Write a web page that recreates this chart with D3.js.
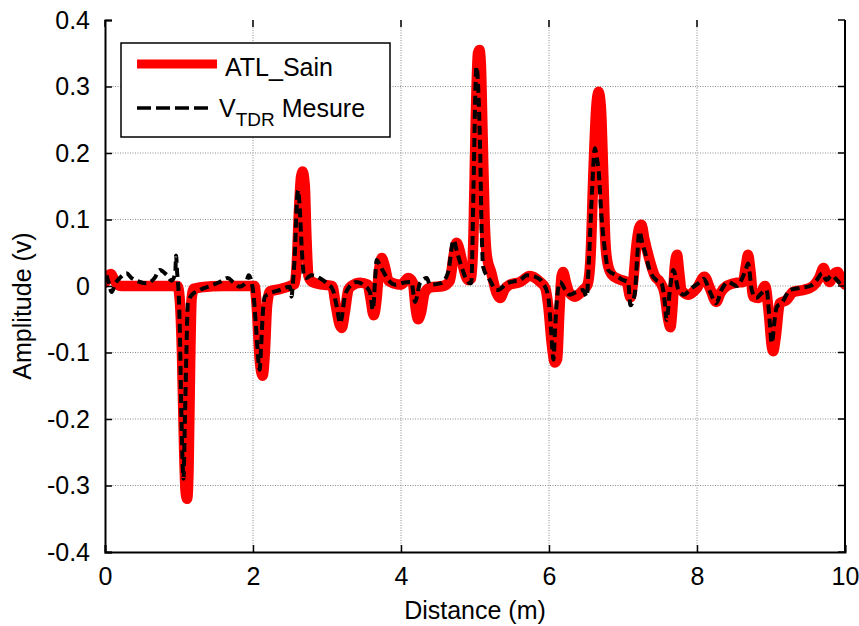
<!DOCTYPE html>
<html>
<head>
<meta charset="utf-8">
<script src="https://cdn.jsdelivr.net/npm/d3@7/dist/d3.min.js"></script>
<style>
  html, body { margin: 0; padding: 0; background: #fff; }
  svg text { font-family: "Liberation Sans", Arial, Helvetica, sans-serif; fill: #000; }
</style>
</head>
<body>
<svg id="chart" width="859" height="626"></svg>
<script>
// Distance (m) / amplitude (V) samples of the simulated healthy line
const sainDist = [0.00,0.04,0.08,0.12,0.17,0.22,0.50,0.98,1.01,1.04,1.07,1.09,1.11,1.13,1.15,1.17,1.20,1.30,1.60,2.02,2.05,2.09,2.13,2.16,2.19,2.23,2.35,2.50,2.56,2.59,2.62,2.65,2.67,2.70,2.72,2.75,2.80,2.95,3.07,3.12,3.17,3.20,3.24,3.29,3.33,3.45,3.55,3.59,3.63,3.67,3.70,3.74,3.78,3.83,3.90,4.00,4.10,4.16,4.20,4.23,4.27,4.32,4.40,4.57,4.66,4.71,4.75,4.80,4.84,4.91,4.95,4.98,5.01,5.04,5.06,5.08,5.10,5.13,5.16,5.22,5.29,5.34,5.40,5.47,5.61,5.74,5.88,5.95,5.99,6.04,6.08,6.11,6.14,6.17,6.19,6.23,6.27,6.35,6.46,6.52,6.56,6.60,6.64,6.67,6.70,6.73,6.76,6.79,6.85,6.95,7.05,7.10,7.14,7.18,7.22,7.25,7.29,7.36,7.43,7.50,7.56,7.61,7.64,7.67,7.70,7.73,7.76,7.79,7.88,8.00,8.10,8.18,8.26,8.32,8.40,8.54,8.62,8.66,8.69,8.72,8.76,8.83,8.92,8.97,9.01,9.03,9.06,9.12,9.21,9.30,9.44,9.57,9.65,9.71,9.75,9.79,9.85,9.90,9.95,10.0];
const sainAmp = [0.005,0.015,0.018,0.010,0.002,0.000,0.000,0.000,-0.02,-0.10,-0.25,-0.31,-0.32,-0.27,-0.12,-0.02,-0.004,-0.002,0.000,0.000,-0.03,-0.11,-0.135,-0.10,-0.03,-0.008,-0.005,0.000,0.003,0.03,0.11,0.165,0.172,0.15,0.08,0.015,0.006,0.002,0.000,-0.03,-0.058,-0.063,-0.04,-0.005,0.000,0.005,0.002,-0.02,-0.044,-0.02,0.02,0.042,0.03,0.008,0.004,0.002,0.012,0.005,-0.035,-0.05,-0.04,-0.01,-0.002,0.000,0.008,0.045,0.065,0.05,0.029,0.009,0.012,0.08,0.25,0.35,0.355,0.33,0.24,0.10,0.045,0.02,-0.01,-0.018,-0.005,0.002,0.006,0.015,0.006,-0.003,-0.03,-0.09,-0.115,-0.11,-0.04,0.015,0.021,0.005,-0.009,-0.016,-0.006,0.002,0.04,0.17,0.27,0.292,0.27,0.18,0.07,0.035,0.017,0.01,0.006,-0.017,0.01,0.06,0.088,0.092,0.07,0.039,0.015,0.006,-0.01,-0.05,-0.062,-0.03,0.03,0.047,0.02,-0.006,-0.013,-0.003,0.014,-0.005,-0.024,-0.01,0.000,0.005,0.006,0.03,0.047,0.025,-0.016,-0.018,0.000,-0.04,-0.09,-0.098,-0.08,-0.026,-0.021,-0.009,-0.006,0.000,0.012,0.027,0.015,0.006,0.018,0.021,0.01,0.002];

// Measured TDR response
const mesureDist = [0.02,0.05,0.09,0.14,0.20,0.29,0.36,0.47,0.56,0.67,0.74,0.83,0.90,0.95,0.96,0.975,0.99,1.01,1.03,1.05,1.06,1.08,1.10,1.12,1.17,1.28,1.42,1.55,1.66,1.73,1.82,1.91,1.94,2.00,2.04,2.08,2.09,2.11,2.13,2.16,2.23,2.36,2.50,2.52,2.54,2.57,2.59,2.61,2.63,2.66,2.69,2.72,2.79,2.90,3.00,3.08,3.13,3.18,3.21,3.24,3.31,3.40,3.49,3.58,3.62,3.65,3.67,3.72,3.76,3.83,3.92,4.03,4.14,4.19,4.26,4.35,4.39,4.53,4.59,4.64,4.71,4.76,4.80,4.89,4.93,4.95,4.98,5.01,5.02,5.05,5.07,5.09,5.11,5.20,5.29,5.31,5.43,5.52,5.61,5.70,5.81,5.92,5.99,6.03,6.06,6.08,6.10,6.15,6.22,6.28,6.37,6.46,6.51,6.54,6.58,6.62,6.65,6.67,6.71,6.76,6.80,6.89,7.00,7.07,7.10,7.16,7.19,7.22,7.26,7.30,7.36,7.45,7.52,7.56,7.59,7.63,7.68,7.75,7.82,7.93,8.04,8.09,8.18,8.26,8.33,8.42,8.54,8.60,8.66,8.69,8.74,8.80,8.87,8.94,8.98,9.01,9.05,9.08,9.14,9.26,9.39,9.53,9.62,9.69,9.75,9.82,9.89,9.98];
const mesureAmp = [0.016,0.005,-0.009,0.004,0.012,0.019,0.012,0.006,0.004,0.012,0.024,0.017,0.008,0.02,0.046,0.02,0.000,-0.06,-0.18,-0.27,-0.29,-0.20,-0.10,-0.026,-0.014,-0.006,0.000,0.006,0.012,0.006,-0.001,0.006,0.016,-0.006,-0.06,-0.12,-0.126,-0.09,-0.046,-0.016,-0.011,-0.006,-0.001,-0.016,0.005,0.06,0.12,0.144,0.12,0.054,0.015,0.012,0.016,0.012,0.004,-0.006,-0.03,-0.056,-0.04,-0.016,0.000,0.006,0.002,-0.009,-0.036,0.01,0.039,0.03,0.022,0.009,0.002,0.005,0.006,-0.024,0.005,0.012,0.002,0.004,0.009,0.022,0.069,0.05,0.035,0.009,0.004,0.005,0.15,0.31,0.33,0.28,0.20,0.084,0.029,0.009,-0.006,-0.006,0.004,0.007,0.009,0.016,0.014,0.004,-0.016,-0.07,-0.111,-0.07,-0.031,0.006,-0.006,-0.013,-0.009,-0.006,-0.016,0.04,0.14,0.207,0.19,0.174,0.104,0.05,0.024,0.017,0.009,0.006,-0.029,-0.011,0.04,0.082,0.065,0.05,0.024,0.009,0.004,-0.02,-0.051,-0.01,0.024,-0.006,-0.013,-0.003,0.006,0.011,-0.01,-0.026,-0.006,0.006,0.000,0.009,0.025,0.034,-0.006,-0.018,-0.011,-0.006,-0.05,-0.086,-0.05,-0.031,-0.026,-0.006,-0.003,0.000,0.009,0.019,0.009,0.016,0.009,-0.003];

const xTicks = [0, 2, 4, 6, 8, 10];
const yTicks = [-0.4, -0.3, -0.2, -0.1, 0, 0.1, 0.2, 0.3, 0.4];
const xTitle = "Distance (m)";
const yTitle = "Amplitude (v)";

const svg = d3.select("#chart");
const plotL = 105, plotR = 845, plotT = 20, plotB = 552;

const x = d3.scaleLinear().domain([0, 10]).range([plotL, plotR]);
const y = d3.scaleLinear().domain([-0.4, 0.4]).range([plotB, plotT]);

// clip region for the traces
svg.append("defs").append("clipPath").attr("id", "plotClip")
  .append("rect").attr("x", plotL).attr("y", plotT)
  .attr("width", plotR - plotL).attr("height", plotB - plotT);

// dotted grid
const grid = svg.append("g");
grid.selectAll("line.gx").data(xTicks.filter(t => t > 0 && t < 10)).join("line")
  .attr("x1", d => x(d)).attr("x2", d => x(d)).attr("y1", plotT).attr("y2", plotB)
  .attr("stroke", "#8c8c8c").attr("stroke-width", 1).attr("stroke-dasharray", "1,1.5");
grid.selectAll("line.gy").data(yTicks.filter(t => t > -0.4 && t < 0.4)).join("line")
  .attr("x1", plotL).attr("x2", plotR).attr("y1", d => y(d)).attr("y2", d => y(d))
  .attr("stroke", "#8c8c8c").attr("stroke-width", 1).attr("stroke-dasharray", "1,1.5");

const line = d3.line().x(d => x(d[0])).y(d => y(d[1])).curve(d3.curveMonotoneX);
const sain = sainDist.map((d, i) => [d, sainAmp[i]]);
const mesure = mesureDist.map((d, i) => [d, mesureAmp[i]]);

const traces = svg.append("g").attr("clip-path", "url(#plotClip)");
traces.append("path").datum(sain).attr("d", line)
  .attr("fill", "none").attr("stroke", "#ff0000").attr("stroke-width", 10.5)
  .attr("stroke-linejoin", "round").attr("stroke-linecap", "round");
traces.append("path").datum(mesure).attr("d", line)
  .attr("fill", "none").attr("stroke", "#000").attr("stroke-width", 4)
  .attr("stroke-dasharray", "9,5");

// axes (ticks pointing inward)
const fmtY = d => d === 0 ? "0" : d3.format(".1f")(d).replace("\u2212", "-");
const axisG = svg.append("g");
const yAxis = d3.axisLeft(y).tickValues(yTicks).tickSize(-7).tickPadding(15).tickFormat(fmtY);
axisG.append("g").attr("transform", `translate(${plotL},0)`).call(yAxis)
  .call(g => g.select(".domain").attr("stroke-width", 2));
const xAxis = d3.axisBottom(x).tickValues(xTicks).tickSize(-7).tickPadding(15)
  .tickFormat(d3.format("d"));
axisG.append("g").attr("transform", `translate(0,${plotB})`).call(xAxis)
  .call(g => g.select(".domain").attr("stroke-width", 2));
// right border with inward ticks, top ticks
axisG.append("line").attr("x1", plotR).attr("x2", plotR).attr("y1", plotT).attr("y2", plotB)
  .attr("stroke", "#000").attr("stroke-width", 2);
axisG.selectAll("line.rt").data(yTicks).join("line")
  .attr("x1", plotR).attr("x2", plotR - 7).attr("y1", d => y(d)).attr("y2", d => y(d))
  .attr("stroke", "#000").attr("stroke-width", 1.5);
axisG.selectAll("line.tt").data(xTicks).join("line")
  .attr("x1", d => x(d)).attr("x2", d => x(d)).attr("y1", plotT).attr("y2", plotT + 7)
  .attr("stroke", "#000").attr("stroke-width", 1.5);
axisG.selectAll(".tick line").attr("stroke-width", 1.5);
axisG.selectAll(".tick text").attr("font-size", 25).attr("font-family", "Liberation Sans, Arial, sans-serif");
axisG.selectAll(".domain").attr("stroke", "#000");

// axis titles
svg.append("text").attr("x", (plotL + plotR) / 2).attr("y", 619)
  .attr("text-anchor", "middle").attr("font-size", 25).text(xTitle);
svg.append("text").attr("transform", `translate(31,${(plotT + plotB) / 2 + 20}) rotate(-90)`)
  .attr("text-anchor", "middle").attr("font-size", 25).text(yTitle);

// legend
const lg = svg.append("g");
lg.append("rect").attr("x", 121).attr("y", 43).attr("width", 269).attr("height", 94)
  .attr("fill", "#fff").attr("stroke", "#000").attr("stroke-width", 1.5);
lg.append("line").attr("x1", 137).attr("x2", 217).attr("y1", 64).attr("y2", 64)
  .attr("stroke", "#ff0000").attr("stroke-width", 9);
lg.append("text").attr("x", 225).attr("y", 76).attr("font-size", 25).text("ATL_Sain");
lg.append("line").attr("x1", 137).attr("x2", 213).attr("y1", 108).attr("y2", 108)
  .attr("stroke", "#000").attr("stroke-width", 3.5).attr("stroke-dasharray", "14,5");
const vt = lg.append("text").attr("x", 219).attr("y", 117).attr("font-size", 25);
vt.append("tspan").text("V");
vt.append("tspan").attr("font-size", 19).attr("dy", 9).text("TDR");
vt.append("tspan").attr("dy", -9).text(" Mesure");
</script>
</body>
</html>
